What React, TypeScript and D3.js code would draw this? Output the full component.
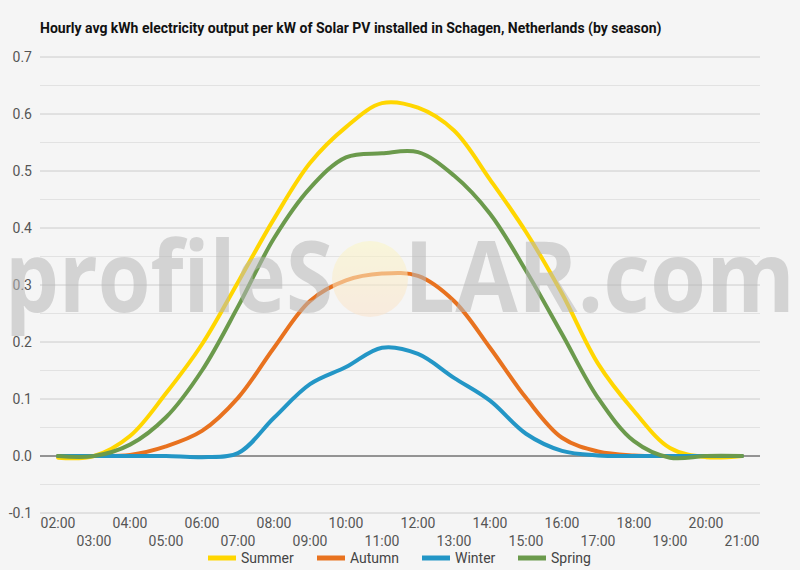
import { scaleBand, scaleLinear, line, curveCatmullRom, range } from "d3";

// hourly avg kWh per kW installed
const hours = [
  "02:00", "03:00", "04:00", "05:00", "06:00", "07:00", "08:00", "09:00", "10:00", "11:00",
  "12:00", "13:00", "14:00", "15:00", "16:00", "17:00", "18:00", "19:00", "20:00", "21:00",
];
const summer = [-0.003, 0.0, 0.035, 0.11, 0.196, 0.305, 0.416, 0.514, 0.577, 0.619, 0.611, 0.571, 0.485, 0.393, 0.285, 0.162, 0.079, 0.014, -0.002, 0.0];
const autumn = [0.0, 0.0, 0.002, 0.017, 0.044, 0.102, 0.19, 0.272, 0.308, 0.32, 0.316, 0.272, 0.19, 0.102, 0.032, 0.008, 0.001, 0.0, 0.0, 0.0];
const winter = [0.0, 0.0, 0.0, 0.0, -0.002, 0.005, 0.067, 0.126, 0.156, 0.19, 0.179, 0.137, 0.097, 0.039, 0.009, 0.001, 0.0, 0.0, 0.0, 0.0];
const spring = [0.0, 0.0, 0.02, 0.068, 0.15, 0.262, 0.382, 0.47, 0.524, 0.531, 0.533, 0.492, 0.425, 0.325, 0.214, 0.102, 0.026, -0.003, 0.0, 0.0];

const seriesNames = ["Summer", "Autumn", "Winter", "Spring"];
const seriesValues = [summer, autumn, winter, spring];
const seriesColors = ["#FFD600", "#E8721F", "#2396C6", "#6B9A4C"];
const yTicks = [-0.1, 0, 0.1, 0.2, 0.3, 0.4, 0.5, 0.6, 0.7];

const W = 800;
const H = 570;
const margin = { top: 57, right: 40, bottom: 58, left: 40 };
const FONT = "Roboto, 'Noto Sans', sans-serif";

export default function App() {
  const x = scaleBand<string>()
    .domain(hours)
    .range([margin.left, W - margin.right]);
  const y = scaleLinear()
    .domain([-0.1, 0.7])
    .range([H - margin.bottom + 1, margin.top]);

  const cx = (h: string) => (x(h) ?? 0) + x.bandwidth() / 2;
  const path = line<number>()
    .x((_, i) => cx(hours[i]))
    .y((d) => y(d))
    .curve(curveCatmullRom.alpha(0.5));

  const minor = range(-0.05, 0.7, 0.1);

  const legendX = [208, 317, 422, 518];

  return (
    <div style={{ position: "fixed", left: 0, top: 0 }}>
      <svg width={W} height={H} style={{ display: "block", background: "#f5f5f5" }}>
        <defs>
          <linearGradient id="sun" x1="0" y1="0" x2="0" y2="1">
            <stop offset="0%" stopColor="#fbf6c4" />
            <stop offset="100%" stopColor="#fbe3cc" />
          </linearGradient>
        </defs>

        <text x={40} y={33} fontFamily={FONT} fontWeight={700} fontSize={14} fill="#111">
          Hourly avg kWh electricity output per kW of Solar PV installed in Schagen, Netherlands (by season)
        </text>

        {/* minor gridlines */}
        {minor.map((t) => (
          <line key={`m${t}`} x1={margin.left} x2={W - margin.right} y1={y(t)} y2={y(t)} stroke="#e2e2e2" strokeWidth={1} />
        ))}
        {/* major gridlines */}
        {yTicks.map((t) => (
          <g key={`g${t}`}>
            <line
              x1={margin.left}
              x2={W - margin.right}
              y1={y(t)}
              y2={y(t)}
              stroke={t === 0 ? "#333" : "#cccccc"}
              strokeWidth={1}
            />
            <text x={32} y={y(t)} dy="0.35em" textAnchor="end" fontFamily={FONT} fontSize={14} fill="#555">
              {t.toFixed(1)}
            </text>
          </g>
        ))}

        {/* x labels, staggered */}
        {hours.map((h, i) => (
          <text
            key={h}
            x={cx(h)}
            y={i % 2 === 0 ? 523 : 541}
            dy="0.35em"
            textAnchor="middle"
            fontFamily={FONT}
            fontSize={14}
            fill="#555"
          >
            {h}
          </text>
        ))}

        {/* series */}
        {seriesValues.map((vals, i) => (
          <path
            key={seriesNames[i]}
            d={path(vals) ?? ""}
            fill="none"
            stroke={seriesColors[i]}
            strokeWidth={4}
            strokeLinecap="round"
            strokeLinejoin="round"
          />
        ))}

        {/* watermark */}
        <g opacity={0.55}>
          <circle cx={370} cy={279} r={38} fill="url(#sun)" />
          <text
            x={5}
            y={312}
            fontFamily="'Open Sans', sans-serif"
            fontWeight={700}
            fontSize={98}
            fill="#b8b8b8"
            textLength={328}
            lengthAdjust="spacingAndGlyphs"
          >
            profileS
          </text>
          <text
            x={404}
            y={312}
            fontFamily="'Open Sans', sans-serif"
            fontWeight={700}
            fontSize={98}
            fill="#b8b8b8"
            textLength={391}
            lengthAdjust="spacingAndGlyphs"
          >
            LAR.com
          </text>
        </g>

        {/* legend */}
        {seriesNames.map((n, i) => (
          <g key={`l${n}`}>
            <line x1={legendX[i]} x2={legendX[i] + 28} y1={558} y2={558} stroke={seriesColors[i]} strokeWidth={5} />
            <text x={legendX[i] + 33} y={558} dy="0.35em" fontFamily={FONT} fontSize={14} fill="#444">
              {n}
            </text>
          </g>
        ))}
      </svg>
    </div>
  );
}
